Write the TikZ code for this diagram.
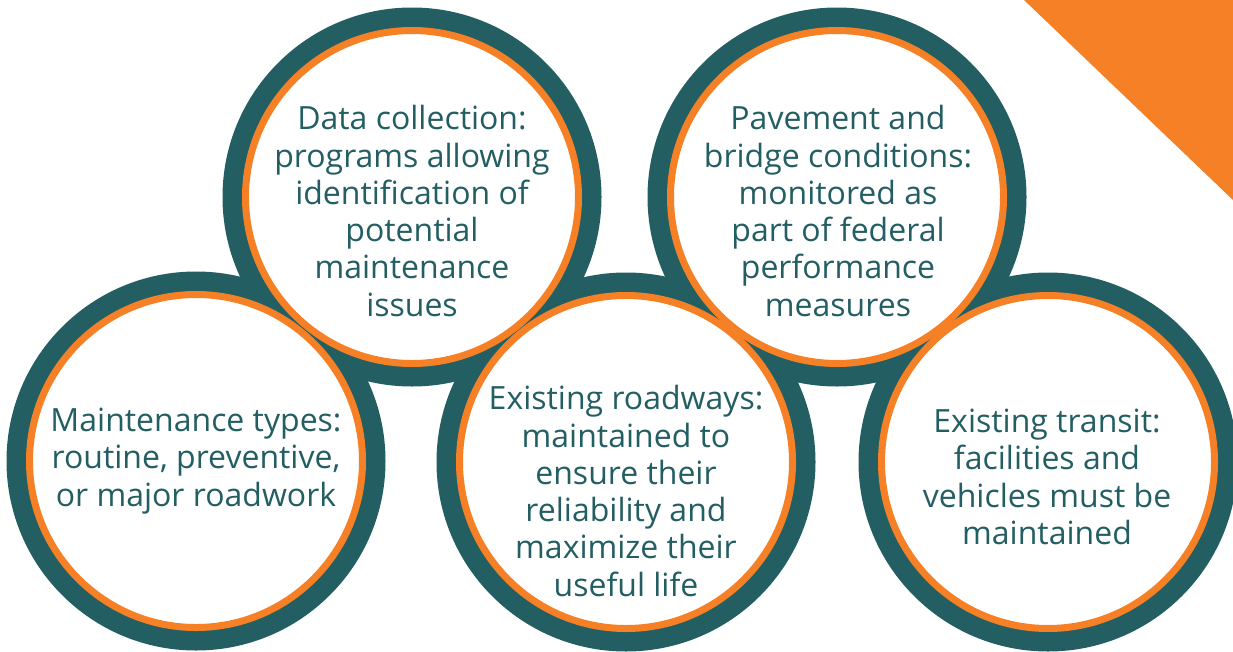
\documentclass[tikz,border=0pt]{standalone}
\usepackage{fontspec}
\setmainfont{Open Sans}
\definecolor{tealdk}{RGB}{35,94,99}
\definecolor{orng}{RGB}{245,128,38}
\begin{document}
\begin{tikzpicture}[x=1pt,y=-1pt,
  outerdisc/.style={circle,fill=tealdk,minimum size=379pt,inner sep=0pt},
  ringdisc/.style={circle,draw=orng,line width=7pt,fill=white,minimum size=333pt,inner sep=0pt},
  txt/.style={align=center,text=tealdk,font=\fontsize{32}{37.3}\selectfont,inner sep=0pt}]
\useasboundingbox (0,0) rectangle (1233,651);
\fill[white] (0,0) rectangle (1233,651);
\fill[orng] (1024,0) -- (1233,0) -- (1233,200) -- cycle;
% teal discs
\node[outerdisc] (o1) at (196,461) {};
\node[outerdisc] (o2) at (412,197) {};
\node[outerdisc] (o3) at (626,462) {};
\node[outerdisc] (o4) at (837,197) {};
\node[outerdisc] (o5) at (1048,462) {};
% orange rings with white interiors
\node[ringdisc] (r1) at (o1) {};
\node[ringdisc] (r2) at (o2) {};
\node[ringdisc] (r3) at (o3) {};
\node[ringdisc] (r4) at (o4) {};
\node[ringdisc] (r5) at (o5) {};
% texts
\node[txt] (t1) at (196,461) {Maintenance types:\\routine, preventive,\\or major roadwork};
\node[txt] (t2) at (412,211) {Data collection:\\programs allowing\\identification of\\potential\\maintenance\\issues};
\node[txt] (t3) at (626,491) {Existing roadways:\\maintained to\\ensure their\\reliability and\\maximize their\\useful life};
\node[txt] (t4) at (838,211) {Pavement and\\bridge conditions:\\monitored as\\part of federal\\performance\\measures};
\node[txt] (t5) at (1047,477) {Existing transit:\\facilities and\\vehicles must be\\maintained};
\end{tikzpicture}
\end{document}
